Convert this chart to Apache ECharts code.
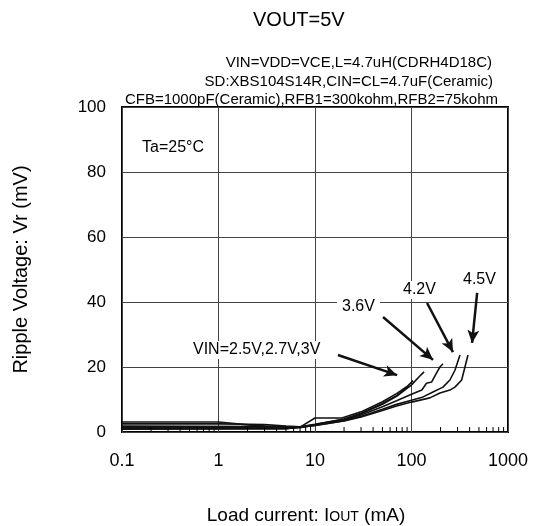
<!DOCTYPE html>
<html>
<head>
<meta charset="utf-8">
<title>Ripple Voltage vs Load current</title>
<script src="https://cdn.jsdelivr.net/npm/echarts@6/dist/echarts.min.js"></script>
<style>
  html, body { margin: 0; padding: 0; background: #fff; }
  #chart { width: 534px; height: 526px; }
</style>
</head>
<body>
<div id="chart"></div>
<script>
// x tick labels (log axis, mA)
const xTickLabels = ['0.1', '1', '10', '100', '1000'];
// minor tick values along the bottom of the plot
const minorTicks = [
  0.2, 0.3, 0.4, 0.5, 0.6, 0.7, 0.8, 0.9,
  2, 3, 4, 5, 6, 7, 8, 9,
  20, 30, 40, 50, 60, 70, 80, 90,
  200, 300, 400, 500, 600, 700, 800, 900
];

// [Iout (mA), Vr (mV)]
const vin25 = [[0.1, 3.1], [1, 3.1], [2, 2.2], [4, 1.6], [7, 1.5], [10, 4.3], [19, 4.3], [30, 6.2], [50, 9.3], [70, 11.8], [90, 14], [104, 15.8]];
const vin27 = [[0.1, 2.5], [1, 2.5], [3, 2.3], [5, 1.8], [7, 1.6], [10, 2.4], [20, 4], [30, 5.8], [50, 8.8], [70, 11.2], [96, 14.2]];
const vin30 = [[0.1, 1.8], [3, 1.7], [7, 1.5], [10, 2.3], [20, 3.9], [30, 5.6], [50, 8.5], [70, 11], [100, 14.5], [120, 17], [135, 18.5]];
const vin36 = [[0.1, 1.4], [3, 1.3], [7, 1.3], [10, 2.2], [20, 3.7], [30, 5.2], [50, 7.8], [70, 9.6], [100, 11.6], [128, 12.9], [143, 15], [162, 15.4], [182, 18.2], [197, 20], [212, 21]];
const vin42 = [[0.1, 1.0], [5, 1.0], [10, 2.0], [20, 3.5], [30, 4.8], [50, 7], [70, 8.5], [100, 9.8], [132, 10.8], [167, 12.3], [212, 13.8], [250, 16], [282, 19], [318, 23.7]];
const vin45 = [[0.1, 0.9], [5, 1.0], [10, 2.0], [20, 3.4], [30, 4.6], [50, 6.6], [70, 8], [100, 9.2], [155, 10.5], [197, 12], [250, 12.9], [282, 13.8], [331, 16], [358, 20], [385, 23.7]];

const chart = echarts.init(document.getElementById('chart'));

function curve(name, data, extra) {
  return Object.assign({
    name: name,
    type: 'line',
    data: data,
    showSymbol: false,
    symbol: 'none',
    lineStyle: { color: '#111', width: 1.6 },
    z: 3
  }, extra || {});
}

const font = 'Liberation Sans, Arial, sans-serif';

chart.setOption({
  animation: false,
  textStyle: { fontFamily: font },
  grid: {
    left: 122, right: 26, top: 107, bottom: 94,
    outerBoundsMode: 'none',
    containLabel: false,
    show: true, borderColor: '#000', borderWidth: 2, backgroundColor: 'transparent'
  },
  xAxis: {
    type: 'log',
    logBase: 10,
    min: 0.1,
    max: 1000,
    name: '{a|Load current: I}{s|OUT}{a| (mA)}',
    nameLocation: 'middle',
    nameGap: 74,
    nameTextStyle: {
      padding: [0, 18, 0, 0],
      rich: {
        a: { fontSize: 19, color: '#000', fontFamily: font },
        s: { fontSize: 14, color: '#000', fontFamily: font, padding: [4, 0, 0, 0] }
      }
    },
    axisLine: { show: false },
    axisTick: { show: false },
    axisLabel: {
      fontSize: 18, color: '#000', margin: 20,
      formatter: function (v) {
        return xTickLabels[Math.round(Math.log10(v)) + 1];
      }
    },
    splitLine: { show: true, lineStyle: { color: '#444', width: 1 } }
  },
  yAxis: {
    type: 'value',
    min: 0,
    max: 100,
    interval: 20,
    name: 'Ripple Voltage: Vr (mV)',
    nameLocation: 'middle',
    nameGap: 91,
    nameTextStyle: { fontSize: 20, color: '#000' },
    axisLine: { show: false },
    axisTick: { show: false },
    axisLabel: { fontSize: 17, color: '#000', margin: 16 },
    splitLine: { show: true, lineStyle: { color: '#444', width: 1 } }
  },
  series: [
    curve('2.5V', vin25, {
      markLine: {
        silent: true,
        symbol: ['none', 'arrow'],
        symbolSize: [9, 13],
        label: { show: false },
        lineStyle: { color: '#111', width: 2.5, type: 'solid' },
        data: [
          [{ coord: [17.3, 23.7] }, { coord: [71, 17.5] }],
          [{ coord: [50.7, 35.4] }, { coord: [167, 22.2] }],
          [{ coord: [145, 39.7] }, { coord: [269, 24.6] }],
          [{ coord: [479, 42.8] }, { coord: [424, 27.4] }]
        ]
      }
    }),
    curve('2.7V', vin27),
    curve('3V', vin30),
    curve('3.6V', vin36),
    curve('4.2V', vin42),
    curve('4.5V', vin45),
    {
      type: 'custom',
      data: minorTicks.map(function (v) { return [v, 0]; }),
      silent: true,
      z: 4,
      renderItem: function (params, api) {
        const p = api.coord([api.value(0), api.value(1)]);
        return {
          type: 'line',
          shape: { x1: p[0], y1: p[1], x2: p[0], y2: p[1] - 5 },
          style: { stroke: '#000', lineWidth: 1 }
        };
      }
    }
  ],
  graphic: [
    { type: 'text', left: 253, top: 10, z: 10,
      style: { text: 'VOUT=5V', font: '20px ' + font, fill: '#000' } },
    { type: 'text', right: 42, top: 55, z: 10,
      style: { text: 'VIN=VDD=VCE,L=4.7uH(CDRH4D18C)', font: '15px ' + font, fill: '#000' } },
    { type: 'text', right: 41, top: 74, z: 10,
      style: { text: 'SD:XBS104S14R,CIN=CL=4.7uF(Ceramic)', font: '15px ' + font, fill: '#000' } },
    { type: 'text', right: 36, top: 92, z: 10,
      style: { text: 'CFB=1000pF(Ceramic),RFB1=300kohm,RFB2=75kohm', font: '15px ' + font, fill: '#000' } },
    { type: 'text', left: 142, top: 140, z: 10,
      style: { text: 'Ta=25°C', font: '16px ' + font, fill: '#000' } },
    { type: 'text', left: 191, top: 341, z: 10,
      style: { text: 'VIN=2.5V,2.7V,3V', font: '16px ' + font, fill: '#000', backgroundColor: '#fff', padding: [1, 2] } },
    { type: 'text', left: 337, top: 298, z: 10,
      style: { text: '3.6V', font: '16px ' + font, fill: '#000', backgroundColor: '#fff', padding: [1, 5] } },
    { type: 'text', left: 400, top: 281, z: 10,
      style: { text: '4.2V', font: '16px ' + font, fill: '#000', backgroundColor: '#fff', padding: [1, 3] } },
    { type: 'text', left: 461, top: 271, z: 10,
      style: { text: '4.5V', font: '16px ' + font, fill: '#000', backgroundColor: '#fff', padding: [1, 2] } }
  ]
});
</script>
</body>
</html>
